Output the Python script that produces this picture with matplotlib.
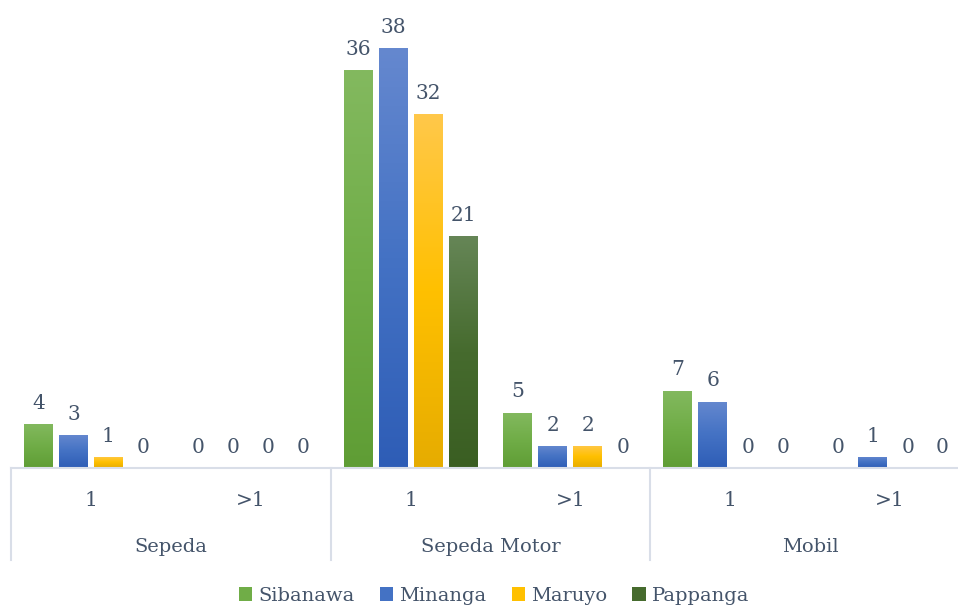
import numpy as np
import matplotlib
matplotlib.use("Agg")
import matplotlib.pyplot as plt
from matplotlib.colors import LinearSegmentedColormap
from matplotlib.patches import Patch
from matplotlib.lines import Line2D
import matplotlib.transforms as mtransforms

groups = ["Sepeda", "Sepeda Motor", "Mobil"]
subcats = ["1", ">1", "1", ">1", "1", ">1"]
series = ["Sibanawa", "Minanga", "Maruyo", "Pappanga"]
sibanawa = [4, 0, 36, 5, 7, 0]
minanga = [3, 0, 38, 2, 6, 1]
maruyo = [1, 0, 32, 2, 0, 0]
pappanga = [0, 0, 21, 0, 0, 0]
values = [sibanawa, minanga, maruyo, pappanga]

base_colors = ["#70AD47", "#4472C4", "#FFC000", "#466B2E"]
grad_colors = [
    ("#83B95F", "#70AD47", "#5F9D35"),
    ("#6588CF", "#4472C4", "#2E5DB6"),
    ("#FFC84A", "#FFC000", "#E6AC00"),
    ("#668657", "#466B2E", "#3A5E22"),
]
text_color = "#44546A"
line_color = "#D9DEE8"
plt.rcParams['font.family'] = ['DejaVu Serif']
fs_num = 14.5
fs = 14

fig = plt.figure(figsize=(9.58, 6.10), dpi=100)
W, H = 958, 610
base_px = 468
ppu = 11.05
ymax = 42
ax = fig.add_axes([11 / W, (H - base_px) / H, 959 / W, ymax * ppu / H])

x = np.arange(len(subcats)) + 0.5
bw = 29 / 160
step = 35 / 160
offsets = (np.arange(4) - 1.5) * step

for i, (name, vals) in enumerate(zip(series, values)):
    bars = ax.bar(x + offsets[i], vals, width=bw, color=base_colors[i], zorder=2)
    cmap = LinearSegmentedColormap.from_list(name, list(grad_colors[i][::-1]))
    for b, v in zip(bars, vals):
        if v > 0:
            x0 = b.get_x()
            img = ax.imshow(np.linspace(0, 1, 256).reshape(-1, 1), cmap=cmap,
                            origin='lower', aspect='auto',
                            extent=(x0, x0 + b.get_width(), 0, v), zorder=3)
            img.set_clip_path(b)
        ax.annotate(str(v), (b.get_x() + b.get_width() / 2, v), xytext=(0, 11),
                    textcoords='offset points', ha='center', va='baseline',
                    fontsize=fs_num, color=text_color)

ax.set_xlim(0, len(subcats))
ax.set_ylim(0, ymax)
ax.set_yticks([])
ax.set_xticks([])
for s in ['top', 'right', 'left']:
    ax.spines[s].set_visible(False)
ax.spines['bottom'].set_color(line_color)
ax.spines['bottom'].set_linewidth(1.5)
ax.spines['bottom'].set_zorder(4)

trans = mtransforms.blended_transform_factory(ax.transData, ax.transAxes)
axh = ymax * ppu
for xs in [0, 2, 4, 6]:
    ax.add_line(Line2D([xs, xs], [0, -92 / axh], transform=trans, color=line_color,
                       lw=1.5, clip_on=False))
for xi, lab in zip(x, subcats):
    ax.text(xi, -32 / axh, lab, transform=trans, ha='center', va='center',
            fontsize=fs_num, color=text_color)
for gi, g in enumerate(groups):
    ax.text(2 * gi + 1, -79 / axh, g, transform=trans, ha='center', va='center',
            fontsize=fs, color=text_color)

handles = [Patch(facecolor=c, edgecolor='none') for c in base_colors]
leg = fig.legend(handles, series, loc='center', bbox_to_anchor=(494 / W, 1 - 596 / H),
                 ncol=4, frameon=False, fontsize=fs, handlelength=0.7, handleheight=0.7,
                 handletextpad=0.3, columnspacing=1.3, borderaxespad=0)
for t in leg.get_texts():
    t.set_color(text_color)

fig.savefig("out.png", dpi=100)
